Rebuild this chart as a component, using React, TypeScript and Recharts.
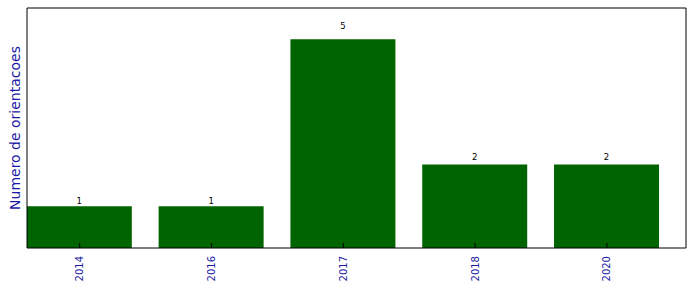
import { BarChart, Bar, XAxis, YAxis, LabelList } from 'recharts';

const years = ['2014', '2016', '2017', '2018', '2020'];
const counts = [1, 1, 5, 2, 2];
const positions = [0, 1, 2, 3, 4];
const yMax = 5.75;

const data = years.map((year, i) => ({ pos: positions[i], year, count: counts[i] }));

const BLUE = '#1a1aa6';

function BottomTick(props: any) {
  const { x, y, payload } = props;
  return (
    <text
      x={x}
      y={y}
      transform={`rotate(-90 ${x} ${y})`}
      textAnchor="end"
      dominantBaseline="central"
      fill={BLUE}
      fontSize={10}
    >
      {years[payload.value]}
    </text>
  );
}

function ValueLabel(props: any) {
  const { x, y, width, height, value } = props;
  return (
    <text x={x + width / 2} y={y - 0.05 * height} textAnchor="middle" fontSize={8.5} fill="#000">
      {value}
    </text>
  );
}

export default function App() {
  return (
    <div style={{ position: 'absolute', left: 0, top: 0, fontFamily: 'DejaVu Sans' }}>
      <BarChart width={696} height={292} data={data} margin={{ top: 0, right: 0, bottom: 0, left: 0 }}>
        <Bar dataKey="count" fill="#006400" barSize={105} isAnimationActive={false}>
          <LabelList dataKey="count" content={<ValueLabel />} />
        </Bar>
        <XAxis
          dataKey="pos"
          type="number"
          domain={[-0.4, 4.6]}
          ticks={positions}
          allowDataOverflow
          height={44}
          tickSize={-5}
          tickMargin={13}
          tickLine={{ stroke: '#000' }}
          axisLine={{ stroke: '#000' }}
          tick={<BottomTick />}
          interval={0}
        />
        <XAxis
          xAxisId="top"
          orientation="top"
          dataKey="pos"
          type="number"
          domain={[-0.4, 4.6]}
          ticks={positions}
          allowDataOverflow
          height={8}
          tickSize={-5}
          tickMargin={0}
          tickLine={{ stroke: '#000' }}
          axisLine={{ stroke: '#000' }}
          tick={false}
          interval={0}
        />
        <YAxis
          domain={[0, yMax]}
          width={27}
          tick={false}
          tickLine={false}
          axisLine={{ stroke: '#000' }}
          label={{
            content: (p: any) => {
              const vb = p.viewBox;
              const cx = 15;
              const cy = vb.y + vb.height / 2;
              return (
                <text
                  x={cx}
                  y={cy}
                  transform={`rotate(-90 ${cx} ${cy})`}
                  textAnchor="middle"
                  dominantBaseline="central"
                  fill={BLUE}
                  fontSize={14}
                >
                  Numero de orientacoes
                </text>
              );
            },
          }}
        />
        <YAxis
          yAxisId="right"
          orientation="right"
          domain={[0, yMax]}
          width={10}
          tick={false}
          tickLine={false}
          axisLine={{ stroke: '#000' }}
        />
      </BarChart>
    </div>
  );
}
